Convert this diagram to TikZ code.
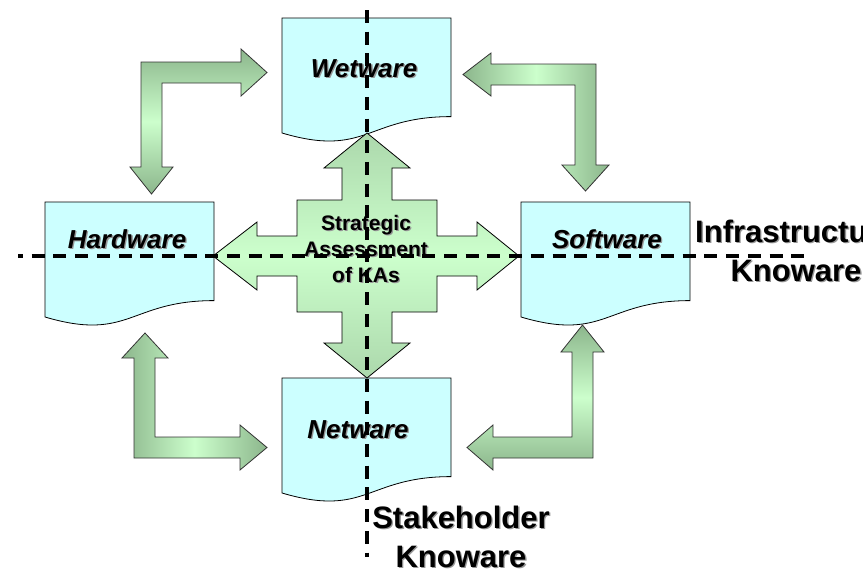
\documentclass[tikz,border=0pt]{standalone}
\usepackage{fontspec}
\setmainfont{Liberation Sans}
\definecolor{docfill}{HTML}{CCFFFF}
\definecolor{arrlight}{HTML}{CCFFCC}
\definecolor{arrdark}{RGB}{140,182,140}
\definecolor{crossdark}{RGB}{172,216,172}
\definecolor{txtshadow}{RGB}{150,150,150}
\newcommand\shd[1]{\leavevmode\rlap{\kern1.3pt\raisebox{-1.3pt}{\textcolor{txtshadow}{#1}}}#1}
\begin{document}
\begin{tikzpicture}[x=1pt,y=-1pt,
  doc/.style={draw=black,line width=0.8pt,fill=docfill},
  bentv/.style={draw=black!80,line width=0.8pt,top color=arrdark,bottom color=arrdark,middle color=arrlight},
  benth/.style={draw=black!80,line width=0.8pt,left color=arrdark,right color=arrdark,middle color=arrlight},
  cross/.style={draw=black,line width=0.8pt,top color=crossdark,bottom color=crossdark,middle color=arrlight},
  docpic/.pic={\path[doc] (0,0) -- (169,0) -- (169,98.6) .. controls (84.5,98.6) and (84.5,140) .. (0,115) -- cycle;},
  doclabel/.style={font=\fontsize{26}{31}\selectfont\bfseries\itshape,anchor=base,inner sep=0pt},
  biglabel/.style={font=\fontsize{31}{39}\selectfont\bfseries,align=center,anchor=base,inner sep=0pt},
  centerlabel/.style={font=\fontsize{21}{26}\selectfont\bfseries,align=center,anchor=base,inner sep=0pt},
  divider/.style={line width=4pt,dash pattern=on 13pt off 8.7pt}
]
\useasboundingbox (0,0) rectangle (863,571);

% documents
\pic at (282,18) {docpic};
\pic at (45,202) {docpic};
\pic at (521,202) {docpic};
\pic at (282,378) {docpic};

% bent arrows
\path[bentv] (141,62) -- (241,62) -- (241,49) -- (267,72.5) -- (241,96) -- (241,83) -- (162,83) -- (162,167) -- (173,167) -- (151.5,194) -- (130,167) -- (141,167) -- cycle;
\path[benth] (596,64) -- (491,64) -- (491,53) -- (463,74.5) -- (491,96) -- (491,85) -- (575,85) -- (575,165) -- (562,165) -- (585.5,191) -- (609,165) -- (596,165) -- cycle;
\path[benth] (134,458) -- (134,358) -- (122,358) -- (145,333) -- (168,358) -- (155,358) -- (155,437) -- (240,437) -- (240,425) -- (267,447.5) -- (240,470) -- (240,458) -- cycle;
\path[bentv] (593,458) -- (593,352) -- (604,352) -- (582.5,325) -- (561,352) -- (572,352) -- (572,437) -- (493,437) -- (493,425) -- (467,447.5) -- (493,470) -- (493,458) -- cycle;

% central quad arrow
\path[cross] (367,133) -- (410,168) -- (392,168) -- (392,200) -- (437,200) -- (437,236) -- (477,236) -- (477,222) -- (519,256) -- (477,290) -- (477,276) -- (437,276) -- (437,312) -- (392,312) -- (392,343) -- (410,343) -- (367,378) -- (324,343) -- (342,343) -- (342,312) -- (297,312) -- (297,276) -- (257,276) -- (257,290) -- (213,256) -- (257,222) -- (257,236) -- (297,236) -- (297,200) -- (342,200) -- (342,168) -- (324,168) -- cycle;

% labels
\node[doclabel] (wet) at (364,77) {\shd{Wetware}};
\node[doclabel] (hard) at (127,248) {\shd{Hardware}};
\node[doclabel] (soft) at (607,248) {\shd{Software}};
\node[doclabel] (net) at (358,438) {\shd{Netware}};
\node[centerlabel] (sa) at (366,282) {\shd{Strategic}\\\shd{Assessment}\\\shd{of KAs}};

% dividers
\coordinate (hL) at (18,256);
\coordinate (hR) at (808,256);
\coordinate (vT) at (367,10);
\coordinate (vB) at (367,557);
\draw[divider,dash phase=8pt] (hL) -- (hR);
\draw[divider] (vT) -- (vB);

\node[biglabel] (stake) at (461,567) {\shd{Stakeholder}\\\shd{Knoware}};
\node[biglabel] (infra) at (796,281) {\shd{Infrastructure}\\\shd{Knoware}};
\end{tikzpicture}
\end{document}
